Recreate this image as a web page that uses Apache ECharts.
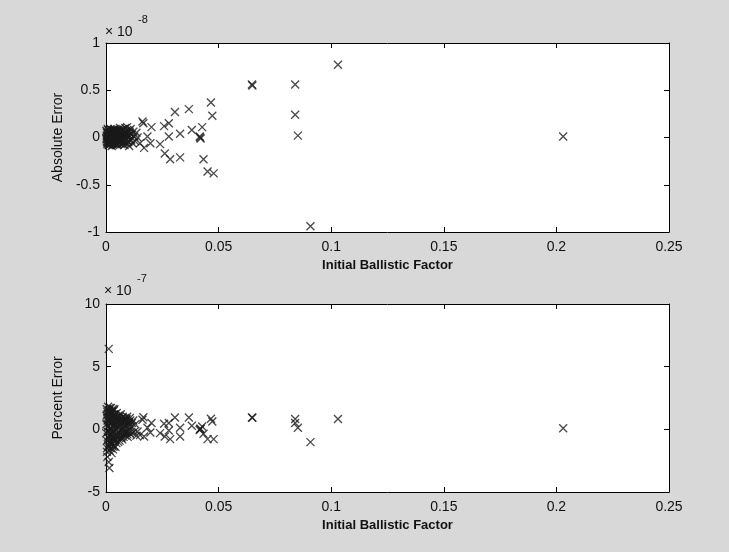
<!DOCTYPE html>
<html>
<head>
<meta charset="utf-8">
<script src="https://cdn.jsdelivr.net/npm/echarts@6/dist/echarts.min.js"></script>
<style>
  html, body { margin: 0; padding: 0; background: #d8d8d8; }
  #main { width: 729px; height: 552px; }
</style>
</head>
<body>
<div id="main"></div>
<script>
// spread-out points (factor, abs error x1e-8, percent error x1e-7)
var spreadFactor = [0.1030, 0.0648, 0.0650, 0.0840, 0.0840, 0.0852, 0.0908, 0.0466, 0.0472, 0.0427,
  0.0381, 0.0368, 0.0306, 0.0329, 0.0418, 0.0416, 0.0420, 0.0433, 0.0451, 0.0478,
  0.0329, 0.0285, 0.0261, 0.0279, 0.0279, 0.0258, 0.0240, 0.0202, 0.0197, 0.0184,
  0.0166, 0.0162, 0.0169, 0.0151, 0.0140, 0.2030, 0.0012, 0.0015];
var spreadAbs = [0.77, 0.56, 0.55, 0.56, 0.24, 0.02, -0.94, 0.37, 0.23, 0.11,
  0.08, 0.30, 0.27, 0.04, 0.00, 0.01, -0.01, -0.23, -0.36, -0.38,
  -0.21, -0.23, -0.17, 0.01, 0.15, 0.12, -0.07, 0.11, -0.06, 0.01,
  0.15, 0.17, -0.11, -0.06, 0.00, 0.01, 0.00, -0.02];
var spreadPct = [0.82, 0.95, 0.92, 0.82, 0.50, 0.12, -1.02, 0.84, 0.63, 0.23,
  0.28, 0.95, 0.95, 0.12, 0.02, -0.05, 0.05, -0.35, -0.78, -0.78,
  -0.57, -0.78, -0.57, -0.09, 0.50, 0.44, -0.30, 0.50, -0.25, 0.12,
  0.97, 0.76, -0.57, -0.46, -0.17, 0.08, 6.42, -3.09];

// dense cluster near zero (first batch)
var clusterFactor = [0.0003, 0.0004, 0.0005, 0.0006, 0.0007, 0.0008, 0.0009, 0.0010, 0.0011, 0.0012,
  0.0013, 0.0014, 0.0015, 0.0016, 0.0017, 0.0018, 0.0019, 0.0020, 0.0021, 0.0022,
  0.0023, 0.0024, 0.0025, 0.0026, 0.0027, 0.0028, 0.0029, 0.0030, 0.0031, 0.0032,
  0.0033, 0.0034, 0.0035, 0.0036, 0.0037, 0.0038, 0.0039, 0.0040, 0.0042, 0.0044,
  0.0046, 0.0048, 0.0050, 0.0052, 0.0054, 0.0056, 0.0058, 0.0060, 0.0062, 0.0064,
  0.0066, 0.0068, 0.0070, 0.0072, 0.0074, 0.0076, 0.0078, 0.0080, 0.0082, 0.0084,
  0.0086, 0.0088, 0.0090, 0.0092, 0.0094, 0.0096, 0.0098, 0.0100, 0.0103, 0.0106,
  0.0109, 0.0112, 0.0115, 0.0118, 0.0121, 0.0125, 0.0130, 0.0135];
var clusterAbs = [0.02, -0.04, 0.06, -0.07, 0.03, -0.02, 0.08, -0.06, 0.01, -0.08,
  0.05, -0.03, 0.07, -0.05, 0.00, 0.04, -0.07, 0.09, -0.01, 0.03,
  -0.06, 0.06, -0.09, 0.02, -0.04, 0.08, -0.02, 0.05, -0.08, 0.01,
  0.07, -0.05, 0.04, -0.03, 0.09, -0.07, 0.00, 0.06, -0.06, 0.03,
  -0.02, 0.08, -0.08, 0.05, -0.04, 0.02, 0.07, -0.06, 0.10, -0.01,
  0.04, -0.07, 0.06, -0.03, 0.09, 0.01, -0.05, 0.08, -0.08, 0.03,
  0.10, -0.02, 0.05, -0.06, 0.11, 0.02, -0.04, 0.07, -0.09, 0.04,
  0.09, -0.03, 0.03, -0.06, 0.06, 0.01, -0.04, 0.05];
var clusterPct = [1.6, -1.8, 0.9, -2.2, 1.2, -0.6, 1.8, -1.4, 0.3, -2.6,
  1.5, -1.1, 0.6, -1.7, 0.0, 1.3, -0.9, 0.8, -1.5, 1.7,
  -0.4, 1.0, -1.9, 0.5, -1.2, 1.4, -0.7, 0.2, -1.6, 1.1,
  -0.3, -1.0, 1.5, -1.3, 0.7, -0.5, 1.2, -0.8, -1.4, 0.9,
  -1.1, 1.3, -0.6, 0.4, -1.0, 1.1, -0.2, -0.9, 0.8, -0.4,
  1.2, -0.7, 0.5, -0.8, 1.0, 0.1, -0.6, 0.7, -0.3, 0.9,
  -0.5, 0.3, 0.8, -0.2, 1.0, -0.6, 0.4, 0.6, -0.1, 0.9,
  -0.4, 0.2, 0.5, -0.3, 0.7, -0.2, 0.4, -0.5];

// dense cluster near zero (second batch)
var clusterFactor2 = [0.0002, 0.0004, 0.0006, 0.0008, 0.0010, 0.0012, 0.0014, 0.0016, 0.0018, 0.0020,
  0.0022, 0.0024, 0.0026, 0.0028, 0.0030, 0.0032, 0.0034, 0.0036, 0.0038, 0.0040,
  0.0001, 0.0003, 0.0005, 0.0007, 0.0009, 0.0011, 0.0013, 0.0015, 0.0017, 0.0019,
  0.0021, 0.0023, 0.0025, 0.0027, 0.0029, 0.0031, 0.0033, 0.0035, 0.0037, 0.0039,
  0.0043, 0.0047, 0.0051, 0.0055, 0.0059, 0.0063, 0.0067, 0.0071, 0.0075, 0.0079,
  0.0083, 0.0087, 0.0091, 0.0095, 0.0099, 0.0102, 0.0105, 0.0108, 0.0041, 0.0045,
  0.0049, 0.0053, 0.0057, 0.0061, 0.0065, 0.0069, 0.0073, 0.0077, 0.0081, 0.0085];
var clusterAbs2 = [-0.01, 0.05, -0.05, 0.09, 0.00, 0.04, -0.07, 0.02, -0.04, 0.06,
  0.00, -0.03, 0.07, -0.06, 0.03, -0.01, 0.08, 0.02, -0.05, 0.04,
  0.07, -0.02, 0.01, -0.05, 0.04, -0.03, 0.02, -0.08, 0.06, 0.00,
  -0.05, 0.08, 0.01, -0.02, 0.06, -0.06, 0.02, 0.05, -0.03, 0.07,
  0.01, -0.05, 0.06, -0.02, 0.03, 0.08, -0.04, 0.02, -0.07, 0.05,
  0.00, 0.06, -0.03, 0.08, -0.05, 0.02, 0.06, -0.02, -0.03, 0.07,
  0.00, -0.07, 0.04, 0.01, -0.03, 0.07, -0.01, 0.04, -0.05, 0.06];
var clusterPct2 = [0.4, -0.9, 1.4, -0.2, -1.3, 0.9, -0.5, 1.7, 0.1, -1.0,
  1.3, -0.4, 0.6, -1.2, 1.6, -0.1, 0.9, -0.8, 0.3, 1.1,
  -0.3, 1.1, -1.5, 0.7, 0.2, -0.7, 1.5, -1.1, 0.5, -0.2,
  0.8, -1.2, 0.0, 1.4, -0.6, 0.6, -1.4, 0.3, 1.6, -0.9,
  0.6, -0.3, 1.0, 0.2, -0.7, 0.5, -0.1, 0.9, -0.4, 0.3,
  0.6, -0.2, 0.8, -0.4, 0.2, 0.5, -0.3, 0.7, 0.0, -0.5,
  0.7, 0.1, -0.3, 1.0, 0.4, -0.6, 0.8, -0.1, 0.5, -0.2];

var factor = spreadFactor.concat(clusterFactor, clusterFactor2);
var absErr = spreadAbs.concat(clusterAbs, clusterAbs2);
var pctErr = spreadPct.concat(clusterPct, clusterPct2);

var chart = echarts.init(document.getElementById('main'));

var textColor = '#111';
var font = 'Liberation Sans';
var crossSymbol = 'path://M0,0L10,10M10,0L0,10';

function xAxes(gridIndex, name) {
  var base = {
    gridIndex: gridIndex, type: 'value', min: 0, max: 0.25, interval: 0.05,
    splitLine: { show: false },
    axisLine: { onZero: false, lineStyle: { color: '#000', width: 1 } },
    axisTick: { inside: true, length: 5, lineStyle: { color: '#000' } }
  };
  return [
    Object.assign({}, base, {
      position: 'bottom',
      name: name, nameLocation: 'middle', nameGap: 27,
      nameTextStyle: { color: textColor, fontFamily: font, fontSize: 13, fontWeight: 'bold' },
      axisLabel: { color: textColor, fontFamily: font, fontSize: 14, margin: 8 }
    }),
    Object.assign({}, base, { position: 'top', axisLabel: { show: false } })
  ];
}

function yAxes(gridIndex, min, max, interval, name) {
  var base = {
    gridIndex: gridIndex, type: 'value', min: min, max: max, interval: interval,
    splitLine: { show: false },
    axisLine: { onZero: false, lineStyle: { color: '#000', width: 1 } },
    axisTick: { inside: true, length: 5, lineStyle: { color: '#000' } }
  };
  return [
    Object.assign({}, base, {
      position: 'left',
      name: name, nameLocation: 'middle', nameGap: 41,
      nameTextStyle: { color: textColor, fontFamily: font, fontSize: 14 },
      axisLabel: { color: textColor, fontFamily: font, fontSize: 14, margin: 6 }
    }),
    Object.assign({}, base, { position: 'right', axisLabel: { show: false } })
  ];
}

function expLabel(left, top, exp) {
  return [
    { type: 'text', left: left, top: top,
      style: { text: '× 10', fill: textColor, fontFamily: font, fontSize: 14 } },
    { type: 'text', left: left + 33, top: top - 11,
      style: { text: exp, fill: textColor, fontFamily: font, fontSize: 11 } }
  ];
}

var option = {
  backgroundColor: '#d8d8d8',
  animation: false,
  grid: [
    { left: 106, top: 43, width: 563, height: 189, show: true, backgroundColor: '#fff', borderWidth: 0 },
    { left: 106, top: 304, width: 563, height: 188, show: true, backgroundColor: '#fff', borderWidth: 0 }
  ],
  xAxis: xAxes(0, 'Initial Ballistic Factor').concat(xAxes(1, 'Initial Ballistic Factor')),
  yAxis: yAxes(0, -1, 1, 0.5, 'Absolute Error').concat(yAxes(1, -5, 10, 5, 'Percent Error')),
  graphic: expLabel(105, 25, '-8').concat(expLabel(104, 284, '-7')),
  series: [
    {
      type: 'scatter', xAxisIndex: 0, yAxisIndex: 0,
      symbol: crossSymbol, symbolSize: 8,
      itemStyle: { color: 'rgba(0,0,0,0)', borderColor: '#1a1a1a', borderWidth: 1.3 },
      data: factor.map(function (x, i) { return [x, absErr[i]]; })
    },
    {
      type: 'scatter', xAxisIndex: 2, yAxisIndex: 2,
      symbol: crossSymbol, symbolSize: 8,
      itemStyle: { color: 'rgba(0,0,0,0)', borderColor: '#1a1a1a', borderWidth: 1.3 },
      data: factor.map(function (x, i) { return [x, pctErr[i]]; })
    }
  ]
};

chart.setOption(option);
</script>
</body>
</html>
